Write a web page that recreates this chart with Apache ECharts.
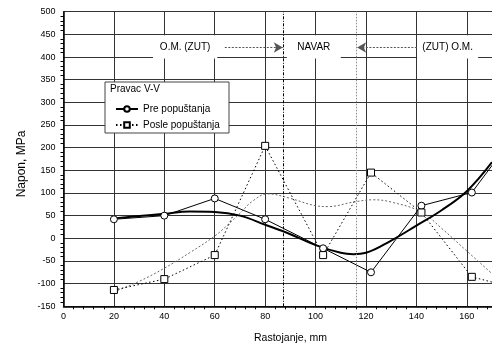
<!DOCTYPE html>
<html><head><meta charset="utf-8">
<script src="https://cdn.jsdelivr.net/npm/echarts@6/dist/echarts.min.js"></script>
<style>html,body{margin:0;padding:0;background:#fff}#c{width:492px;height:351px}</style>
</head><body><div id="c"></div>
<script>
// measured positions (mm)
const xPos = [20, 40, 60, 80, 103, 122, 142, 162, 182];
// Pre popuštanja (circles)
const preVals = [42, 50, 88, 42, -22, -75, 72, 101, 250];
// Posle popuštanja (squares)
const posleVals = [-114, -90, -37, 204, -37, 145, 57, -85, -114];
// trend of "Pre" (thick curve)
const preTrendX = [20, 30, 40, 50, 60, 70, 80, 90, 100, 110, 115, 120, 130, 140, 150, 160, 170];
const preTrendY = [44, 49, 54, 59, 58, 50, 30, 9, -15, -32, -35, -32, -5, 28, 62, 104, 168];
// trend of "Posle" (dotted curve)
const posleTrendX = [20, 30, 40, 50, 60, 66, 70, 75, 81, 90, 100, 105, 115, 123, 130, 142, 150, 160, 170];
const posleTrendY = [-118, -95, -66, -32, 5, 34, 55, 82, 98, 88, 72, 70, 80, 85, 80, 58, 22, -28, -78];
// zone boundaries (mm)
const boundaries = [87, 116];
const zoneLabels = ['O.M. (ZUT)', 'NAVAR', '(ZUT) O.M.'];
const yTicks = { min: -150, max: 500, step: 50 };
const xTicks = { min: 0, max: 170, step: 20 };

const zip = (a, b) => a.map((v, i) => [v, b[i]]);
const FONT = 'Liberation Sans, Arial, sans-serif';

const chart = echarts.init(document.getElementById('c'), null, { renderer: 'canvas' });
chart.setOption({
  animation: false,
  grid: { left: 63.5, right: -1, top: 11.7, bottom: 44.7, containLabel: false },
  textStyle: { fontFamily: FONT },
  xAxis: {
    type: 'value', min: xTicks.min, max: xTicks.max, interval: xTicks.step,
    axisLine: { show: true, onZero: false, lineStyle: { color: '#000', width: 1.5 } },
    axisTick: { show: false },
    minorTick: { show: true, splitNumber: 5, length: 3, lineStyle: { color: '#000' } },
    axisLabel: { color: '#000', fontSize: 9, margin: 6, fontFamily: FONT, showMaxLabel: false,
      formatter: v => (v % 20 === 0 ? String(v) : '') },
    splitLine: { show: true, lineStyle: { color: '#333', width: 1 } }
  },
  yAxis: {
    type: 'value', min: yTicks.min, max: yTicks.max, interval: yTicks.step,
    axisLine: { show: true, onZero: false, lineStyle: { color: '#000', width: 1.5 } },
    axisTick: { show: false },
    minorTick: { show: true, splitNumber: 5, length: 3, lineStyle: { color: '#000' } },
    axisLabel: { color: '#000', fontSize: 9, margin: 8, fontFamily: FONT },
    splitLine: { show: true, lineStyle: { color: '#333', width: 1 } }
  },
  legend: {
    orient: 'vertical', left: 110, top: 99, z: 20,
    itemWidth: 22, itemHeight: 7, itemGap: 6,
    textStyle: { color: '#000', fontSize: 10, fontFamily: FONT },
    data: ['Pre popuštanja', 'Posle popuštanja']
  },
  graphic: [
    { type: 'rect', z: 15, shape: { x: 105, y: 82, width: 124, height: 51 },
      style: { fill: '#fff', stroke: '#444', lineWidth: 1 } },
    { type: 'text', z: 21, x: 110, y: 84,
      style: { text: 'Pravac V-V', fill: '#000', font: '10px ' + FONT } },
    { type: 'text', z: 21, x: 290.5, y: 338, style: { text: 'Rastojanje, mm', fill: '#000',
      font: '10.5px ' + FONT, align: 'center', verticalAlign: 'middle' } },
    { type: 'text', z: 21, x: 22, y: 164, rotation: Math.PI / 2, style: { text: 'Napon, MPa', fill: '#000',
      font: '12px ' + FONT, align: 'center', verticalAlign: 'middle' } }
  ],
  series: [
    {
      name: 'trendPre', type: 'line', data: zip(preTrendX, preTrendY), smooth: 0.4,
      showSymbol: false, symbol: 'none', z: 3,
      lineStyle: { color: '#000', width: 2 },
      markArea: {
        silent: true,
        itemStyle: { color: '#fff', opacity: 1 },
        label: { show: true, position: 'inside', color: '#000', fontSize: 10, fontFamily: FONT },
        data: [
          [{ name: zoneLabels[0], coord: [35.5, 397] }, { coord: [61, 448] }],
          [{ name: zoneLabels[1], coord: [88.6, 397] }, { coord: [110, 448] }],
          [{ name: zoneLabels[2], coord: [140.3, 397] }, { coord: [164.5, 448] }]
        ]
      },
      markLine: {
        silent: true, symbol: ['none', 'arrow'], symbolSize: [8, 9],
        label: { show: false },
        lineStyle: { color: '#555', width: 1, type: [2, 1.5] },
        data: [
          [{ coord: [64, 421] }, { coord: [boundaries[0], 421] }],
          [{ coord: [140.2, 421] }, { coord: [boundaries[1] + 0.5, 421] }]
        ]
      }
    },
    {
      name: 'trendPosle', type: 'line', data: zip(posleTrendX, posleTrendY), smooth: 0.4,
      showSymbol: false, symbol: 'none', z: 2,
      lineStyle: { color: '#666', width: 1, type: [2, 2] },
      markLine: {
        silent: true, symbol: ['none', 'none'], label: { show: false },
        data: [
          { xAxis: boundaries[0], lineStyle: { color: '#000', width: 1, type: [3, 1.5, 1, 1.5] } },
          { xAxis: boundaries[1], lineStyle: { color: '#888', width: 1, type: [1.5, 1.5] } }
        ]
      }
    },
    {
      name: 'Pre popuštanja', type: 'line', data: zip(xPos, preVals), z: 4,
      symbol: 'circle', symbolSize: 7, clip: true,
      lineStyle: { color: '#000', width: 1 },
      itemStyle: { color: '#fff', borderColor: '#000', borderWidth: 1 }
    },
    {
      name: 'Posle popuštanja', type: 'line', data: zip(xPos, posleVals), z: 4,
      symbol: 'rect', symbolSize: 7, clip: true,
      lineStyle: { color: '#000', width: 1, type: [1.5, 2.5] },
      itemStyle: { color: '#fff', borderColor: '#000', borderWidth: 1 }
    }
  ]
});
</script></body></html>
